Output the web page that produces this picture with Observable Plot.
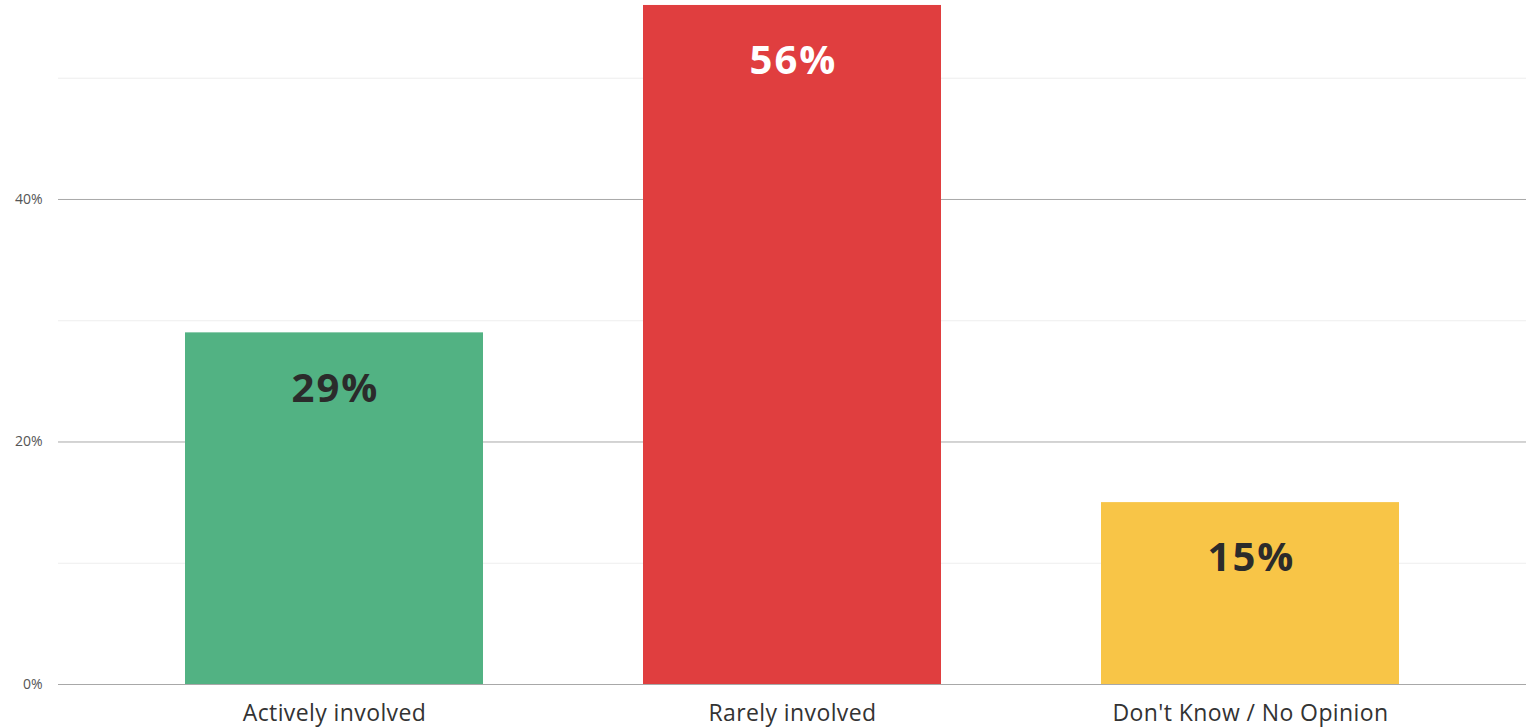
<!DOCTYPE html>
<html>
<head>
<meta charset="utf-8">
<script src="https://cdn.jsdelivr.net/npm/d3@7"></script>
<script src="https://cdn.jsdelivr.net/npm/@observablehq/plot@0.6"></script>
<style>
  html, body { margin: 0; padding: 0; background: #fff; }
  #chart { width: 1526px; height: 728px; overflow: hidden; }
  #chart svg g[aria-label="x-axis tick label"] text { letter-spacing: 0.4px; }
  #chart svg g[aria-label="text"] text { letter-spacing: 2px; }
</style>
</head>
<body>
<div id="chart"></div>
<script>
const categories = ["Actively involved", "Rarely involved", "Don't Know / No Opinion"];
const values = [29, 56, 15];
const colors = ["#52b283", "#e03e3f", "#f8c547"];
const labelColors = ["#2b2b2b", "#ffffff", "#2b2b2b"];
const majorTicks = [0, 20, 40];
const minorTicks = [10, 30, 50];

const data = categories.map((c, i) => ({category: c, value: values[i], color: colors[i], labelColor: labelColors[i]}));

const chart = Plot.plot({
  width: 1526,
  height: 728,
  marginTop: 0,
  marginBottom: 44,
  marginLeft: 58,
  marginRight: 0,
  style: {fontFamily: "'Open Sans', Lato, sans-serif", background: "#fff"},
  x: {domain: categories, paddingInner: 0.35, paddingOuter: 0.275, label: null},
  y: {domain: [0, 56.41], label: null},
  marks: [
    Plot.ruleY(minorTicks, {stroke: "#eeeeee", strokeWidth: 1}),
    Plot.ruleY(majorTicks, {stroke: "#a8a8a8", strokeWidth: 1}),
    Plot.axisY(majorTicks, {tickSize: 0, tickPadding: 16, tickFormat: d => d + "%", fontSize: 14, fill: "#555", label: null}),
    Plot.axisX({tickSize: 0, tickPadding: 20, fontSize: 23, fill: "#333", label: null}),
    Plot.barY(data, {x: "category", y: "value", fill: d => d.color}),
    Plot.text(data, {x: "category", y: "value", text: d => d.value + "%", dx: 1, dy: 56, fill: d => d.labelColor, fontSize: 40, fontWeight: "bold"})
  ]
});
document.getElementById("chart").appendChild(chart);
</script>
</body>
</html>
